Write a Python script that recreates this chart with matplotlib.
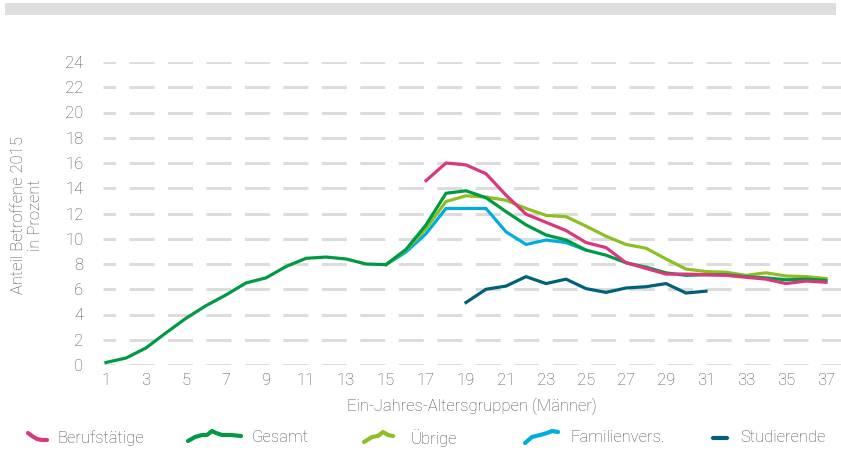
import matplotlib.pyplot as plt
import numpy as np
from matplotlib.lines import Line2D
from matplotlib.patches import Rectangle

plt.rcParams['font.family'] = ['Roboto', 'DejaVu Sans']
plt.rcParams['font.weight'] = 'light'
plt.rcParams['axes.labelweight'] = 'light'
plt.rcParams['lines.scale_dashes'] = False

# data
ages_gesamt = list(range(1, 38))
gesamt = [0.2, 0.55, 1.35, 2.55, 3.7, 4.7, 5.55, 6.5, 6.9, 7.8, 8.45, 8.55, 8.4,
          8.0, 7.95, 9.15, 11.1, 13.6, 13.8, 13.25, 12.15, 11.1, 10.3, 9.9, 9.1,
          8.7, 8.1, 7.75, 7.3, 7.1, 7.15, 7.15, 7.0, 6.9, 6.75, 6.8, 6.7]
ages_beruf = list(range(17, 38))
berufstaetige = [14.6, 16.0, 15.85, 15.15, 13.45, 11.95, 11.3, 10.65, 9.7, 9.3,
                 8.1, 7.65, 7.2, 7.2, 7.15, 7.1, 6.95, 6.8, 6.45, 6.65, 6.55]
ages_uebrige = list(range(15, 38))
uebrige = [7.95, 9.1, 10.8, 12.95, 13.4, 13.3, 13.05, 12.4, 11.85, 11.75, 11.0,
           10.2, 9.55, 9.25, 8.4, 7.6, 7.4, 7.35, 7.1, 7.3, 7.05, 7.0, 6.85]
ages_famil = list(range(15, 26))
familienvers = [7.95, 8.95, 10.4, 12.4, 12.4, 12.4, 10.55, 9.55, 9.9, 9.7, 9.1]
ages_stud = list(range(19, 32))
studierende = [4.95, 6.0, 6.25, 7.0, 6.45, 6.8, 6.05, 5.75, 6.1, 6.2, 6.45, 5.7, 5.85]

c_beruf = '#d9387f'
c_gesamt = '#009a44'
c_uebrige = '#8dbf22'
c_famil = '#00aede'
c_stud = '#00617a'
grey = '#505050'

W, H = 841, 453
fig = plt.figure(figsize=(W / 100, H / 100), dpi=100)
ax = fig.add_axes([103 / W, 1 - 365 / H, 1 - 103 / W, (365 - 62) / H])

lw = 2.3
ax.plot(ages_famil, familienvers, color=c_famil, lw=lw, zorder=3, clip_on=False)
ax.plot(ages_uebrige, uebrige, color=c_uebrige, lw=lw, zorder=4, clip_on=False)
ax.plot(ages_gesamt, gesamt, color=c_gesamt, lw=lw, zorder=5, clip_on=False)
ax.plot(ages_beruf, berufstaetige, color=c_beruf, lw=lw, zorder=6, clip_on=False)
ax.plot(ages_stud, studierende, color=c_stud, lw=lw, zorder=7, clip_on=False)

ax.set_xlim(0.85, 37.75)
ax.set_ylim(0, 24)
ax.set_xticks(range(1, 38, 2))
ax.set_yticks(range(0, 25, 2))
ax.yaxis.grid(True, color='#dcdcdc', lw=2.2, linestyle=(9, (18, 9.7)))
ax.set_axisbelow(True)
for s in ax.spines.values():
    s.set_visible(False)
ax.tick_params(length=0, labelsize=12, labelcolor=grey)
ax.tick_params(axis='y', pad=14)
ax.tick_params(axis='x', pad=6)
ax.set_xlabel('Ein-Jahres-Altersgruppen (Männer)', fontsize=12, color=grey, labelpad=7)
fig.text(27 / W, 1 - 215 / H, 'Anteil Betroffene 2015\nin Prozent', rotation=90,
         ha='center', va='center', fontsize=12, color=grey, linespacing=1.15)

# top grey bar
fig.add_artist(Rectangle((5 / W, 1 - 15 / H), 831 / W, 12 / H, transform=fig.transFigure,
                         color='#dedede', lw=0))

# legend with squiggle handles
handles = [
    (c_beruf, [(28, 433), (32, 436), (37, 439), (42, 440), (47, 440)], 57, 'Berufstätige'),
    (c_gesamt, [(188, 441), (195, 437), (202, 435), (207, 435), (212, 431), (216, 433),
                (222, 435), (231, 435), (241, 436)], 252, 'Gesamt'),
    (c_uebrige, [(364, 442), (372, 437), (378, 436), (383, 432), (388, 435), (393, 436)], 411, 'Übrige'),
    (c_famil, [(525, 443), (532, 437), (540, 435), (547, 433), (552, 431), (558, 432)], 570, 'Familienvers.'),
    (c_stud, [(713, 438), (727, 438)], 740, 'Studierende'),
]
for col, pts, tx, label in handles:
    xs = np.array([p[0] for p in pts]) / W
    ys = 1 - np.array([p[1] for p in pts]) / H
    fig.add_artist(Line2D(xs, ys, color=col, lw=3, solid_capstyle='round',
                          transform=fig.transFigure))
    fig.text(tx / W, 1 - 438 / H, label, ha='left', va='center', fontsize=12, color=grey)

fig.savefig('out.png', dpi=100)
